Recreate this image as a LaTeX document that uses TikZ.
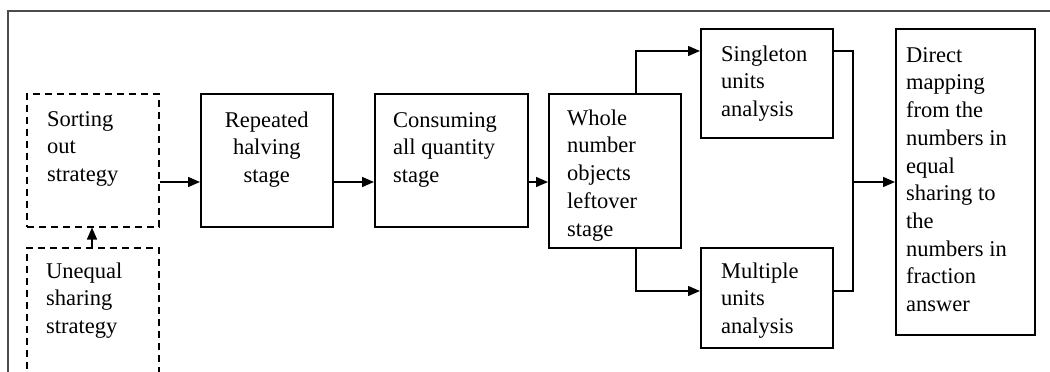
\documentclass[tikz,border=0pt]{standalone}
\usepackage{fontspec}
\setmainfont{Liberation Serif}
\usetikzlibrary{arrows.meta,calc}
\begin{document}
\begin{tikzpicture}[x=1pt,y=-1pt,
  box/.style={draw, line width=1.5pt, rectangle, anchor=north west, inner sep=0pt},
  dbox/.style={box, dash pattern=on 7pt off 5pt},
  txt/.style={anchor=north west, inner sep=0pt, align=left, font=\fontsize{22.5}{27.7}\selectfont, text=black},
  ctxt/.style={txt, anchor=north, align=center},
  arr/.style={line width=1.5pt, -{Triangle[length=12pt,width=10pt]}},
  ln/.style={line width=1.5pt}]
\useasboundingbox (0,0) rectangle (1050,372);
\clip (0,0) rectangle (1050,372);
\draw[line width=1.2pt, black!70] (8,380) -- (8,11) -- (1060,11);
% boxes
\node[dbox, minimum width=132, minimum height=133] (sort) at (26,93) {};
\node[dbox, minimum width=132, minimum height=150] (uneq) at (26,247) {};
\node[box, minimum width=132, minimum height=133] (rep) at (200,93) {};
\node[box, minimum width=153, minimum height=133] (cons) at (374,93) {};
\node[box, minimum width=132, minimum height=154] (whole) at (548,93) {};
\node[box, minimum width=132, minimum height=109] (single) at (700,28) {};
\node[box, minimum width=132, minimum height=100] (multi) at (700,247) {};
\node[box, minimum width=139, minimum height=306] (direct) at (895,28) {};
% texts
\node[txt] (tsort) at ($(sort.north west)+(21,13)$) {\rule{0pt}{20pt}Sorting\\out\\strategy};
\node[txt] (tuneq) at ($(uneq.north west)+(20,11)$) {\rule{0pt}{20pt}Unequal\\sharing\\strategy};
\node[ctxt] (trep) at ($(rep.north)+(0,14)$) {\rule{0pt}{20pt}Repeated\\halving\\stage};
\node[txt] (tcons) at ($(cons.north west)+(19,14)$) {\rule{0pt}{20pt}Consuming\\all quantity\\stage};
\node[txt] (twhole) at ($(whole.north west)+(19,12)$) {\rule{0pt}{20pt}Whole\\number\\objects\\leftover\\stage};
\node[txt] (tsingle) at ($(single.north west)+(21,13)$) {\rule{0pt}{20pt}Singleton\\units\\analysis};
\node[txt] (tmulti) at ($(multi.north west)+(21,11)$) {\rule{0pt}{20pt}Multiple\\units\\analysis};
\node[txt] (tdirect) at ($(direct.north west)+(11,14)$) {\rule{0pt}{20pt}Direct\\mapping\\from the\\numbers in\\equal\\sharing to\\the\\numbers in\\fraction\\answer};
% helper coordinates
\coordinate (row) at (0,182);
\coordinate (up) at (0,51);
\coordinate (down) at (0,291);
\coordinate (split) at (636,0);
\coordinate (join) at (853,0);
\coordinate (stem) at (92,0);
% connectors
\draw[arr] (sort.east |- row) -- (rep.west |- row);
\draw[arr] (rep.east |- row) -- (cons.west |- row);
\draw[arr] (cons.east |- row) -- (whole.west |- row);
\draw[arr] (uneq.north -| stem) -- (sort.south -| stem);
\draw[arr] (whole.north -| split) -- (split |- up) -- (single.west |- up);
\draw[arr] (whole.south -| split) -- (split |- down) -- (multi.west |- down);
\draw[ln] (single.east |- up) -- (join |- up) -- (join |- down) -- (multi.east |- down);
\draw[arr] (join |- row) -- (direct.west |- row);
\end{tikzpicture}
\end{document}
